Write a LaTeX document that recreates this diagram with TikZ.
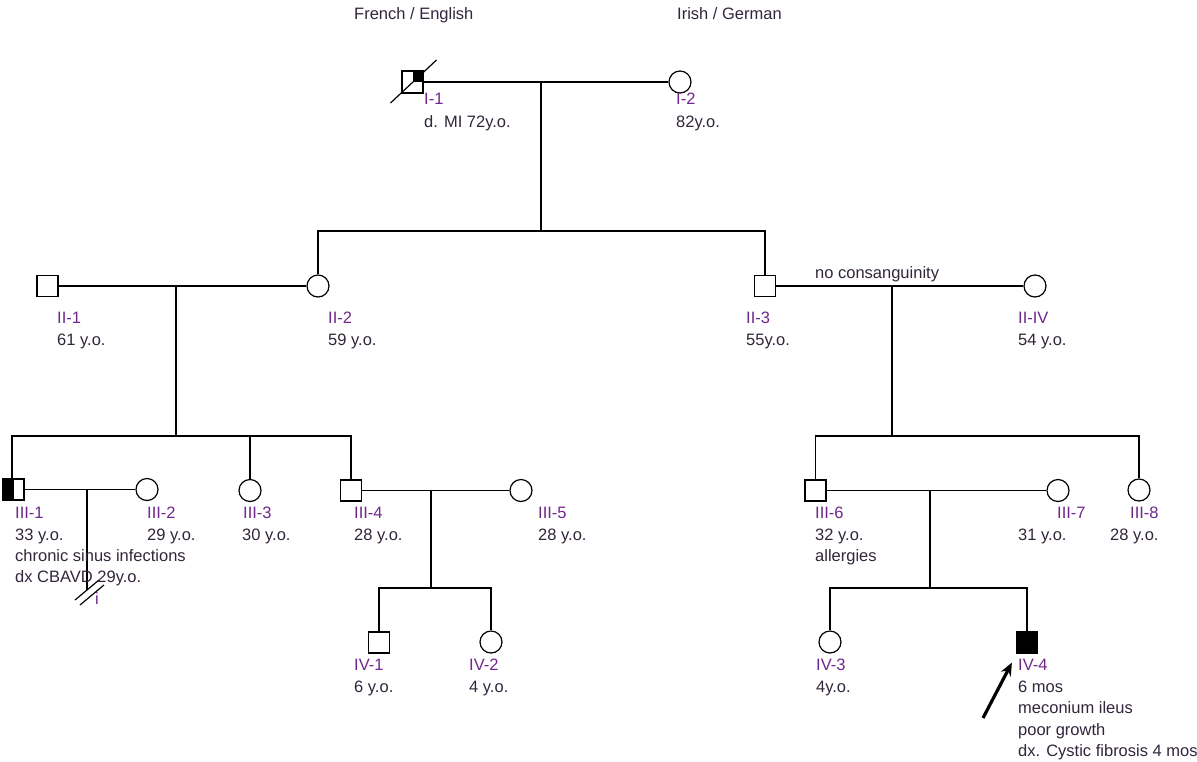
\documentclass[tikz,border=0pt]{standalone}
\usepackage{fontspec}
\setmainfont{Liberation Sans}
\usetikzlibrary{arrows.meta,calc}
\definecolor{idc}{RGB}{112,40,140}
\definecolor{txc}{RGB}{50,38,60}
\tikzset{
  sq/.style={draw, rectangle, minimum size=21pt, inner sep=0pt, fill=white, line width=1.2pt},
  ci/.style={draw, circle, minimum size=22pt, inner sep=0pt, fill=white, line width=1.2pt},
  lbl/.style={anchor=base west, inner sep=0pt, font=\fontsize{16.5}{19}\selectfont},
  ln/.style={line width=1.2pt},
}
\newcommand\pedid[4]{\node[lbl,text=idc] (#1) at (#2,#3) {#4};}
\newcommand\pedtx[4]{\node[lbl,text=txc] (#1) at (#2,#3) {#4};}
\begin{document}
\begin{tikzpicture}[x=1pt,y=-1pt]
\useasboundingbox (0,0) rectangle (1197,761);
\fill[white] (0,0) rectangle (1197,761);

% junction coordinates
\coordinate (m1) at (541,82);
\coordinate (m1b) at (541,231);
\coordinate (m2) at (176,286);
\coordinate (m2b) at (176,436);
\coordinate (s2l) at (12,436);
\coordinate (m3) at (87,490);
\coordinate (m3b) at (87,590);
\coordinate (m4) at (431,490);
\coordinate (m4b) at (431,588);
\coordinate (m5) at (892,286);
\coordinate (m5b) at (892,436);
\coordinate (m6) at (930,490);
\coordinate (m6b) at (930,588);

% generation I
\node[sq] (I1) at (412.5,82) {};
\node[ci] (I2) at (680,82) {};
% generation II
\node[sq] (II1) at (47.5,286) {};
\node[ci] (II2) at (318,286) {};
\node[sq] (II3) at (765,286) {};
\node[ci] (II4) at (1035,286) {};
% generation III
\node[sq] (III1) at (13.5,489.5) {};
\node[ci] (III2) at (147,489.5) {};
\node[ci] (III3) at (250,490.5) {};
\node[sq] (III4) at (351,490.5) {};
\node[ci] (III5) at (521,490.5) {};
\node[sq] (III6) at (815.5,490.5) {};
\node[ci] (III7) at (1058,490.5) {};
\node[ci] (III8) at (1139,490) {};
% generation IV
\node[sq] (IV1) at (379,642.5) {};
\node[ci] (IV2) at (491,642) {};
\node[ci] (IV3) at (830,642) {};
\node[sq,fill=black] (IV4) at (1027,642.5) {};

% partial fills / status marks
\fill (I1.center) rectangle (I1.north east);
\draw[ln] (I1.south west) rectangle (I1.north east);
\draw[ln] (I1.center) +(-22,21) -- +(24,-22);
\fill (III1.south west) rectangle (III1.north);
\draw[ln] (III1.south west) rectangle (III1.north east);

% connectors
\draw[ln] (I1.east) -- (I2.west);
\draw[ln] (m1) -- (m1b);
\draw[ln] (II2.north) |- (m1b) -| (II3.north);

\draw[ln] (II1.east) -- (II2.west);
\draw[ln] (m2) -- (m2b);
\draw[ln] (s2l |- III1.north) -- (s2l) -| (III4.north);
\draw[ln] (III3.north) -- (III3.north |- m2b);

\draw[ln] (III1.east) -- (III2.west);
\draw[ln] (m3) -- (m3b);
\draw[ln] (m3b) +(-12,10) -- +(12,-10);
\draw[ln] (m3b) +(-7,15) -- +(17,-5);

\draw[ln] (III4.east) -- (III5.west);
\draw[ln] (m4) -- (m4b);
\draw[ln] (IV1.north) |- (m4b) -| (IV2.north);

\draw[ln] (II3.east) -- (II4.west);
\draw[ln] (m5) -- (m5b);
\draw[ln] (III6.north) |- (m5b) -| (III8.north);

\draw[ln] (III6.east) -- (III7.west);
\draw[ln] (m6) -- (m6b);
\draw[ln] (IV3.north) |- (m6b) -| (IV4.north);

% proband arrow
\coordinate (arrT) at (983,718);
\draw[line width=3.2pt,-{Stealth[length=13pt,width=11pt]}] (arrT) -- ($(IV4.south west)+(-4,9)$);

% labels
\pedtx{tFE}{354}{19}{French / English}
\pedtx{tIG}{677}{19}{Irish / German}
\pedid{lI1}{424}{104}{I-1}
\pedtx{aI1}{424}{127}{d. MI 72y.o.}
\pedid{lI2}{676}{104}{I-2}
\pedtx{aI2}{676}{127}{82y.o.}

\pedid{lII1}{57}{323}{II-1}
\pedtx{aII1}{57}{345}{61 y.o.}
\pedid{lII2}{328}{323}{II-2}
\pedtx{aII2}{328}{345}{59 y.o.}
\pedid{lII3}{746}{323}{II-3}
\pedtx{aII3}{746}{345}{55y.o.}
\pedid{lII4}{1018}{323}{II-IV}
\pedtx{aII4}{1018}{345}{54 y.o.}
\pedtx{tNC}{815}{278}{no consanguinity}

\pedid{lIII1}{15}{518}{III-1}
\pedtx{aIII1}{15}{540}{33 y.o.}
\pedtx{bIII1}{15}{561}{chronic sinus infections}
\pedtx{cIII1}{15}{582}{dx CBAVD 29y.o.}
\pedid{lIII2}{147}{518}{III-2}
\pedtx{aIII2}{147}{540}{29 y.o.}
\pedid{lIII3}{243}{518}{III-3}
\pedtx{aIII3}{242}{540}{30 y.o.}
\pedid{lIII4}{354}{518}{III-4}
\pedtx{aIII4}{354}{540}{28 y.o.}
\pedid{lIII5}{538}{518}{III-5}
\pedtx{aIII5}{538}{540}{28 y.o.}
\pedid{lIII6}{815}{518}{III-6}
\pedtx{aIII6}{815}{540}{32 y.o.}
\pedtx{bIII6}{815}{561}{allergies}
\pedid{lIII7}{1057}{518}{III-7}
\pedtx{aIII7}{1018}{540}{31 y.o.}
\pedid{lIII8}{1130}{518}{III-8}
\pedtx{aIII8}{1110}{540}{28 y.o.}
\pedid{ti}{95}{604}{i}

\pedid{lIV1}{354}{670}{IV-1}
\pedtx{aIV1}{354}{692}{6 y.o.}
\pedid{lIV2}{469}{670}{IV-2}
\pedtx{aIV2}{469}{692}{4 y.o.}
\pedid{lIV3}{816}{670}{IV-3}
\pedtx{aIV3}{816}{692}{4y.o.}
\pedid{lIV4}{1018}{670}{IV-4}
\pedtx{aIV4}{1018}{692}{6 mos}
\pedtx{bIV4}{1018}{713}{meconium ileus}
\pedtx{cIV4}{1018}{735}{poor growth}
\pedtx{dIV4}{1018}{756}{dx. Cystic fibrosis 4 mos}
\end{tikzpicture}
\end{document}
